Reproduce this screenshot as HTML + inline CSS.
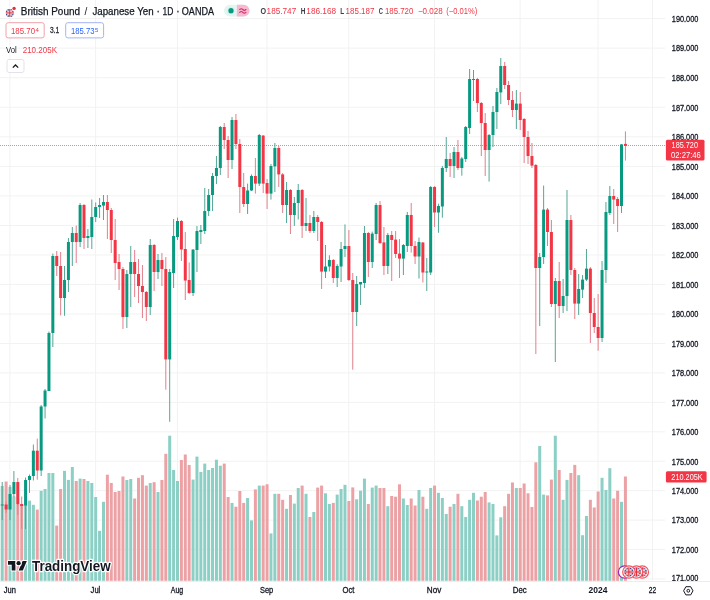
<!DOCTYPE html>
<html><head><meta charset="utf-8"><style>
html,body{margin:0;padding:0;background:#fff;}
body{width:710px;height:600px;overflow:hidden;position:relative;}
svg{position:absolute;left:0;top:0;font-family:"Liberation Sans",sans-serif;will-change:transform;}
text{font-family:"Liberation Sans",sans-serif;}
</style></head><body>
<svg width="710" height="600" viewBox="0 0 710 600">
<defs><clipPath id="cp"><rect x="0" y="0" width="665.5" height="581"/></clipPath>
<clipPath id="pa"><rect x="665.5" y="0" width="50" height="582"/></clipPath>
<clipPath id="fc"><circle cx="0" cy="0" r="6.2"/></clipPath>
<g id="ukf"><circle cx="0" cy="0" r="6.2" fill="#2b2d6e"/>
<g clip-path="url(#fc)"><path d="M-7,-7L7,7M7,-7L-7,7" stroke="#fff" stroke-width="2.2"/><path d="M-7,-7L7,7M7,-7L-7,7" stroke="#e0303f" stroke-width="0.8"/>
<rect x="-7" y="-1.6" width="14" height="3.2" fill="#fff"/><rect x="-1.6" y="-7" width="3.2" height="14" fill="#fff"/>
<rect x="-7" y="-0.9" width="14" height="1.8" fill="#e0303f"/><rect x="-0.9" y="-7" width="1.8" height="14" fill="#e0303f"/></g></g>
</defs>
<g clip-path="url(#cp)">
<line x1="0" y1="578.93" x2="665.5" y2="578.93" stroke="#f2f2f2" stroke-width="1"/>
<line x1="0" y1="549.54" x2="665.5" y2="549.54" stroke="#f2f2f2" stroke-width="1"/>
<line x1="0" y1="520.13" x2="665.5" y2="520.13" stroke="#f2f2f2" stroke-width="1"/>
<line x1="0" y1="490.71" x2="665.5" y2="490.71" stroke="#f2f2f2" stroke-width="1"/>
<line x1="0" y1="461.28" x2="665.5" y2="461.28" stroke="#f2f2f2" stroke-width="1"/>
<line x1="0" y1="431.84" x2="665.5" y2="431.84" stroke="#f2f2f2" stroke-width="1"/>
<line x1="0" y1="402.39" x2="665.5" y2="402.39" stroke="#f2f2f2" stroke-width="1"/>
<line x1="0" y1="372.93" x2="665.5" y2="372.93" stroke="#f2f2f2" stroke-width="1"/>
<line x1="0" y1="343.45" x2="665.5" y2="343.45" stroke="#f2f2f2" stroke-width="1"/>
<line x1="0" y1="313.97" x2="665.5" y2="313.97" stroke="#f2f2f2" stroke-width="1"/>
<line x1="0" y1="284.47" x2="665.5" y2="284.47" stroke="#f2f2f2" stroke-width="1"/>
<line x1="0" y1="254.97" x2="665.5" y2="254.97" stroke="#f2f2f2" stroke-width="1"/>
<line x1="0" y1="225.45" x2="665.5" y2="225.45" stroke="#f2f2f2" stroke-width="1"/>
<line x1="0" y1="195.92" x2="665.5" y2="195.92" stroke="#f2f2f2" stroke-width="1"/>
<line x1="0" y1="166.38" x2="665.5" y2="166.38" stroke="#f2f2f2" stroke-width="1"/>
<line x1="0" y1="136.83" x2="665.5" y2="136.83" stroke="#f2f2f2" stroke-width="1"/>
<line x1="0" y1="107.27" x2="665.5" y2="107.27" stroke="#f2f2f2" stroke-width="1"/>
<line x1="0" y1="77.70" x2="665.5" y2="77.70" stroke="#f2f2f2" stroke-width="1"/>
<line x1="0" y1="48.12" x2="665.5" y2="48.12" stroke="#f2f2f2" stroke-width="1"/>
<line x1="0" y1="18.53" x2="665.5" y2="18.53" stroke="#f2f2f2" stroke-width="1"/>
<line x1="9.90" y1="0" x2="9.90" y2="581" stroke="#f2f2f2" stroke-width="1"/>
<line x1="95.59" y1="0" x2="95.59" y2="581" stroke="#f2f2f2" stroke-width="1"/>
<line x1="177.39" y1="0" x2="177.39" y2="581" stroke="#f2f2f2" stroke-width="1"/>
<line x1="266.97" y1="0" x2="266.97" y2="581" stroke="#f2f2f2" stroke-width="1"/>
<line x1="348.76" y1="0" x2="348.76" y2="581" stroke="#f2f2f2" stroke-width="1"/>
<line x1="434.45" y1="0" x2="434.45" y2="581" stroke="#f2f2f2" stroke-width="1"/>
<line x1="520.14" y1="0" x2="520.14" y2="581" stroke="#f2f2f2" stroke-width="1"/>
<line x1="598.04" y1="0" x2="598.04" y2="581" stroke="#f2f2f2" stroke-width="1"/>
<line x1="652.57" y1="0" x2="652.57" y2="581" stroke="#f2f2f2" stroke-width="1"/>
<rect x="0.71" y="486.0" width="3.0" height="94.8" fill="#8ccfc5"/>
<rect x="4.61" y="481.5" width="3.0" height="99.3" fill="#eca1a5"/>
<rect x="8.50" y="487.0" width="3.0" height="93.8" fill="#8ccfc5"/>
<rect x="12.39" y="496.5" width="3.0" height="84.3" fill="#8ccfc5"/>
<rect x="16.29" y="505.0" width="3.0" height="75.8" fill="#eca1a5"/>
<rect x="20.19" y="505.0" width="3.0" height="75.8" fill="#eca1a5"/>
<rect x="24.08" y="505.0" width="3.0" height="75.8" fill="#8ccfc5"/>
<rect x="27.98" y="500.6" width="3.0" height="80.2" fill="#8ccfc5"/>
<rect x="31.87" y="504.8" width="3.0" height="76.0" fill="#8ccfc5"/>
<rect x="35.77" y="509.6" width="3.0" height="71.2" fill="#eca1a5"/>
<rect x="39.66" y="490.8" width="3.0" height="90.0" fill="#8ccfc5"/>
<rect x="43.55" y="489.0" width="3.0" height="91.8" fill="#8ccfc5"/>
<rect x="47.45" y="473.0" width="3.0" height="107.8" fill="#8ccfc5"/>
<rect x="51.34" y="473.0" width="3.0" height="107.8" fill="#8ccfc5"/>
<rect x="55.24" y="525.6" width="3.0" height="55.2" fill="#eca1a5"/>
<rect x="59.13" y="489.0" width="3.0" height="91.8" fill="#eca1a5"/>
<rect x="63.03" y="470.8" width="3.0" height="110.0" fill="#8ccfc5"/>
<rect x="66.92" y="479.9" width="3.0" height="100.9" fill="#8ccfc5"/>
<rect x="70.82" y="467.0" width="3.0" height="113.8" fill="#8ccfc5"/>
<rect x="74.72" y="481.0" width="3.0" height="99.8" fill="#eca1a5"/>
<rect x="78.61" y="478.6" width="3.0" height="102.2" fill="#8ccfc5"/>
<rect x="82.50" y="479.0" width="3.0" height="101.8" fill="#eca1a5"/>
<rect x="86.40" y="481.0" width="3.0" height="99.8" fill="#8ccfc5"/>
<rect x="90.30" y="483.0" width="3.0" height="97.8" fill="#8ccfc5"/>
<rect x="94.19" y="497.0" width="3.0" height="83.8" fill="#8ccfc5"/>
<rect x="98.08" y="530.8" width="3.0" height="50.0" fill="#8ccfc5"/>
<rect x="101.98" y="501.8" width="3.0" height="79.0" fill="#8ccfc5"/>
<rect x="105.88" y="474.7" width="3.0" height="106.1" fill="#eca1a5"/>
<rect x="109.77" y="483.0" width="3.0" height="97.8" fill="#eca1a5"/>
<rect x="113.67" y="492.0" width="3.0" height="88.8" fill="#eca1a5"/>
<rect x="117.56" y="491.0" width="3.0" height="89.8" fill="#eca1a5"/>
<rect x="121.45" y="476.5" width="3.0" height="104.3" fill="#eca1a5"/>
<rect x="125.35" y="480.0" width="3.0" height="100.8" fill="#8ccfc5"/>
<rect x="129.25" y="479.0" width="3.0" height="101.8" fill="#8ccfc5"/>
<rect x="133.14" y="498.5" width="3.0" height="82.3" fill="#eca1a5"/>
<rect x="137.03" y="477.8" width="3.0" height="103.0" fill="#eca1a5"/>
<rect x="140.93" y="475.2" width="3.0" height="105.6" fill="#eca1a5"/>
<rect x="144.82" y="485.6" width="3.0" height="95.2" fill="#eca1a5"/>
<rect x="148.72" y="483.0" width="3.0" height="97.8" fill="#8ccfc5"/>
<rect x="152.62" y="482.2" width="3.0" height="98.6" fill="#eca1a5"/>
<rect x="156.51" y="492.0" width="3.0" height="88.8" fill="#8ccfc5"/>
<rect x="160.41" y="480.0" width="3.0" height="100.8" fill="#eca1a5"/>
<rect x="164.30" y="453.8" width="3.0" height="127.0" fill="#eca1a5"/>
<rect x="168.19" y="435.7" width="3.0" height="145.1" fill="#8ccfc5"/>
<rect x="172.09" y="470.0" width="3.0" height="110.8" fill="#8ccfc5"/>
<rect x="175.99" y="481.0" width="3.0" height="99.8" fill="#8ccfc5"/>
<rect x="179.88" y="460.0" width="3.0" height="120.8" fill="#eca1a5"/>
<rect x="183.78" y="454.5" width="3.0" height="126.3" fill="#eca1a5"/>
<rect x="187.67" y="465.0" width="3.0" height="115.8" fill="#eca1a5"/>
<rect x="191.56" y="479.6" width="3.0" height="101.2" fill="#8ccfc5"/>
<rect x="195.46" y="456.6" width="3.0" height="124.2" fill="#8ccfc5"/>
<rect x="199.35" y="471.9" width="3.0" height="108.9" fill="#8ccfc5"/>
<rect x="203.25" y="463.6" width="3.0" height="117.2" fill="#8ccfc5"/>
<rect x="207.15" y="470.0" width="3.0" height="110.8" fill="#8ccfc5"/>
<rect x="211.04" y="468.0" width="3.0" height="112.8" fill="#8ccfc5"/>
<rect x="214.94" y="459.7" width="3.0" height="121.1" fill="#8ccfc5"/>
<rect x="218.83" y="465.7" width="3.0" height="115.1" fill="#8ccfc5"/>
<rect x="222.72" y="463.6" width="3.0" height="117.2" fill="#eca1a5"/>
<rect x="226.62" y="497.0" width="3.0" height="83.8" fill="#eca1a5"/>
<rect x="230.52" y="502.9" width="3.0" height="77.9" fill="#8ccfc5"/>
<rect x="234.41" y="506.7" width="3.0" height="74.1" fill="#eca1a5"/>
<rect x="238.31" y="491.0" width="3.0" height="89.8" fill="#eca1a5"/>
<rect x="242.20" y="502.9" width="3.0" height="77.9" fill="#eca1a5"/>
<rect x="246.09" y="498.0" width="3.0" height="82.8" fill="#8ccfc5"/>
<rect x="249.99" y="520.4" width="3.0" height="60.4" fill="#8ccfc5"/>
<rect x="253.88" y="489.4" width="3.0" height="91.4" fill="#eca1a5"/>
<rect x="257.78" y="485.6" width="3.0" height="95.2" fill="#8ccfc5"/>
<rect x="261.68" y="485.6" width="3.0" height="95.2" fill="#eca1a5"/>
<rect x="265.57" y="484.3" width="3.0" height="96.5" fill="#eca1a5"/>
<rect x="269.46" y="533.4" width="3.0" height="47.4" fill="#8ccfc5"/>
<rect x="273.36" y="493.8" width="3.0" height="87.0" fill="#8ccfc5"/>
<rect x="277.25" y="493.8" width="3.0" height="87.0" fill="#eca1a5"/>
<rect x="281.15" y="499.8" width="3.0" height="81.0" fill="#eca1a5"/>
<rect x="285.05" y="508.8" width="3.0" height="72.0" fill="#8ccfc5"/>
<rect x="288.94" y="495.0" width="3.0" height="85.8" fill="#eca1a5"/>
<rect x="292.83" y="503.6" width="3.0" height="77.2" fill="#8ccfc5"/>
<rect x="296.73" y="488.0" width="3.0" height="92.8" fill="#8ccfc5"/>
<rect x="300.62" y="485.6" width="3.0" height="95.2" fill="#eca1a5"/>
<rect x="304.52" y="493.8" width="3.0" height="87.0" fill="#8ccfc5"/>
<rect x="308.42" y="517.0" width="3.0" height="63.8" fill="#eca1a5"/>
<rect x="312.31" y="512.0" width="3.0" height="68.8" fill="#8ccfc5"/>
<rect x="316.20" y="487.6" width="3.0" height="93.2" fill="#eca1a5"/>
<rect x="320.10" y="485.6" width="3.0" height="95.2" fill="#eca1a5"/>
<rect x="324.00" y="493.3" width="3.0" height="87.5" fill="#8ccfc5"/>
<rect x="327.89" y="504.0" width="3.0" height="76.8" fill="#8ccfc5"/>
<rect x="331.79" y="502.9" width="3.0" height="77.9" fill="#eca1a5"/>
<rect x="335.68" y="494.6" width="3.0" height="86.2" fill="#8ccfc5"/>
<rect x="339.57" y="489.0" width="3.0" height="91.8" fill="#8ccfc5"/>
<rect x="343.47" y="484.8" width="3.0" height="96.0" fill="#8ccfc5"/>
<rect x="347.37" y="501.0" width="3.0" height="79.8" fill="#eca1a5"/>
<rect x="351.26" y="487.4" width="3.0" height="93.4" fill="#eca1a5"/>
<rect x="355.16" y="499.3" width="3.0" height="81.5" fill="#8ccfc5"/>
<rect x="359.05" y="490.7" width="3.0" height="90.1" fill="#8ccfc5"/>
<rect x="362.94" y="478.6" width="3.0" height="102.2" fill="#8ccfc5"/>
<rect x="366.84" y="504.0" width="3.0" height="76.8" fill="#eca1a5"/>
<rect x="370.74" y="487.6" width="3.0" height="93.2" fill="#8ccfc5"/>
<rect x="374.63" y="485.6" width="3.0" height="95.2" fill="#8ccfc5"/>
<rect x="378.52" y="488.0" width="3.0" height="92.8" fill="#eca1a5"/>
<rect x="382.42" y="488.0" width="3.0" height="92.8" fill="#eca1a5"/>
<rect x="386.31" y="506.2" width="3.0" height="74.6" fill="#8ccfc5"/>
<rect x="390.21" y="496.0" width="3.0" height="84.8" fill="#eca1a5"/>
<rect x="394.11" y="496.7" width="3.0" height="84.1" fill="#eca1a5"/>
<rect x="398.00" y="484.3" width="3.0" height="96.5" fill="#eca1a5"/>
<rect x="401.89" y="498.5" width="3.0" height="82.3" fill="#8ccfc5"/>
<rect x="405.79" y="505.0" width="3.0" height="75.8" fill="#8ccfc5"/>
<rect x="409.69" y="498.5" width="3.0" height="82.3" fill="#eca1a5"/>
<rect x="413.58" y="505.5" width="3.0" height="75.3" fill="#eca1a5"/>
<rect x="417.48" y="490.0" width="3.0" height="90.8" fill="#8ccfc5"/>
<rect x="421.37" y="496.7" width="3.0" height="84.1" fill="#eca1a5"/>
<rect x="425.26" y="508.8" width="3.0" height="72.0" fill="#8ccfc5"/>
<rect x="429.16" y="488.0" width="3.0" height="92.8" fill="#8ccfc5"/>
<rect x="433.06" y="485.6" width="3.0" height="95.2" fill="#eca1a5"/>
<rect x="436.95" y="492.8" width="3.0" height="88.0" fill="#8ccfc5"/>
<rect x="440.85" y="498.0" width="3.0" height="82.8" fill="#8ccfc5"/>
<rect x="444.74" y="514.0" width="3.0" height="66.8" fill="#8ccfc5"/>
<rect x="448.63" y="506.7" width="3.0" height="74.1" fill="#eca1a5"/>
<rect x="452.53" y="504.0" width="3.0" height="76.8" fill="#8ccfc5"/>
<rect x="456.43" y="493.8" width="3.0" height="87.0" fill="#eca1a5"/>
<rect x="460.32" y="506.2" width="3.0" height="74.6" fill="#8ccfc5"/>
<rect x="464.21" y="517.0" width="3.0" height="63.8" fill="#8ccfc5"/>
<rect x="468.11" y="499.8" width="3.0" height="81.0" fill="#8ccfc5"/>
<rect x="472.00" y="492.8" width="3.0" height="88.0" fill="#8ccfc5"/>
<rect x="475.90" y="500.5" width="3.0" height="80.3" fill="#eca1a5"/>
<rect x="479.80" y="496.7" width="3.0" height="84.1" fill="#eca1a5"/>
<rect x="483.69" y="492.0" width="3.0" height="88.8" fill="#eca1a5"/>
<rect x="487.58" y="502.4" width="3.0" height="78.4" fill="#8ccfc5"/>
<rect x="491.48" y="504.0" width="3.0" height="76.8" fill="#8ccfc5"/>
<rect x="495.38" y="535.4" width="3.0" height="45.4" fill="#8ccfc5"/>
<rect x="499.27" y="517.3" width="3.0" height="63.5" fill="#8ccfc5"/>
<rect x="503.17" y="506.2" width="3.0" height="74.6" fill="#eca1a5"/>
<rect x="507.06" y="493.8" width="3.0" height="87.0" fill="#eca1a5"/>
<rect x="510.95" y="482.5" width="3.0" height="98.3" fill="#eca1a5"/>
<rect x="514.85" y="488.0" width="3.0" height="92.8" fill="#8ccfc5"/>
<rect x="518.75" y="488.0" width="3.0" height="92.8" fill="#eca1a5"/>
<rect x="522.64" y="483.5" width="3.0" height="97.3" fill="#eca1a5"/>
<rect x="526.53" y="493.3" width="3.0" height="87.5" fill="#eca1a5"/>
<rect x="530.43" y="507.0" width="3.0" height="73.8" fill="#eca1a5"/>
<rect x="534.33" y="462.3" width="3.0" height="118.5" fill="#eca1a5"/>
<rect x="538.22" y="446.0" width="3.0" height="134.8" fill="#8ccfc5"/>
<rect x="542.12" y="494.6" width="3.0" height="86.2" fill="#8ccfc5"/>
<rect x="546.01" y="495.4" width="3.0" height="85.4" fill="#eca1a5"/>
<rect x="549.90" y="479.6" width="3.0" height="101.2" fill="#eca1a5"/>
<rect x="553.80" y="435.7" width="3.0" height="145.1" fill="#8ccfc5"/>
<rect x="557.70" y="470.0" width="3.0" height="110.8" fill="#eca1a5"/>
<rect x="561.59" y="499.8" width="3.0" height="81.0" fill="#8ccfc5"/>
<rect x="565.49" y="479.9" width="3.0" height="100.9" fill="#8ccfc5"/>
<rect x="569.38" y="473.0" width="3.0" height="107.8" fill="#eca1a5"/>
<rect x="573.27" y="464.9" width="3.0" height="115.9" fill="#eca1a5"/>
<rect x="577.17" y="475.2" width="3.0" height="105.6" fill="#8ccfc5"/>
<rect x="581.07" y="535.2" width="3.0" height="45.6" fill="#8ccfc5"/>
<rect x="584.96" y="516.0" width="3.0" height="64.8" fill="#8ccfc5"/>
<rect x="588.86" y="499.8" width="3.0" height="81.0" fill="#eca1a5"/>
<rect x="592.75" y="507.5" width="3.0" height="73.3" fill="#eca1a5"/>
<rect x="596.64" y="491.5" width="3.0" height="89.3" fill="#eca1a5"/>
<rect x="600.54" y="477.8" width="3.0" height="103.0" fill="#8ccfc5"/>
<rect x="604.44" y="490.0" width="3.0" height="90.8" fill="#8ccfc5"/>
<rect x="608.33" y="468.2" width="3.0" height="112.6" fill="#8ccfc5"/>
<rect x="612.23" y="498.5" width="3.0" height="82.3" fill="#eca1a5"/>
<rect x="616.12" y="490.7" width="3.0" height="90.1" fill="#eca1a5"/>
<rect x="620.01" y="501.8" width="3.0" height="79.0" fill="#8ccfc5"/>
<rect x="623.91" y="476.5" width="3.0" height="104.3" fill="#eca1a5"/>
<line x1="0" y1="145.5" x2="665.5" y2="145.5" stroke="#d48e99" stroke-width="1" stroke-dasharray="1 1"/>
<rect x="1.71" y="482.0" width="1" height="38.0" fill="#55a795"/>
<rect x="0.71" y="504.5" width="3.0" height="1.0" fill="#089981"/>
<rect x="5.61" y="501.5" width="1" height="11.5" fill="#e2808c"/>
<rect x="4.61" y="504.5" width="3.0" height="5.0" fill="#f23645"/>
<rect x="9.50" y="485.0" width="1" height="35.0" fill="#55a795"/>
<rect x="8.50" y="494.0" width="3.0" height="15.5" fill="#089981"/>
<rect x="13.39" y="471.0" width="1" height="26.0" fill="#55a795"/>
<rect x="12.39" y="482.0" width="3.0" height="12.0" fill="#089981"/>
<rect x="17.29" y="478.0" width="1" height="37.0" fill="#e2808c"/>
<rect x="16.29" y="482.0" width="3.0" height="22.5" fill="#f23645"/>
<rect x="21.19" y="496.5" width="1" height="32.5" fill="#e2808c"/>
<rect x="20.19" y="504.0" width="3.0" height="2.0" fill="#f23645"/>
<rect x="25.08" y="477.5" width="1" height="51.5" fill="#55a795"/>
<rect x="24.08" y="480.0" width="3.0" height="25.5" fill="#089981"/>
<rect x="28.98" y="474.5" width="1" height="18.5" fill="#55a795"/>
<rect x="27.98" y="476.0" width="3.0" height="4.0" fill="#089981"/>
<rect x="32.87" y="444.5" width="1" height="36.0" fill="#55a795"/>
<rect x="31.87" y="450.7" width="3.0" height="25.3" fill="#089981"/>
<rect x="36.77" y="438.6" width="1" height="41.1" fill="#e2808c"/>
<rect x="35.77" y="450.7" width="3.0" height="19.8" fill="#f23645"/>
<rect x="40.66" y="405.0" width="1" height="71.0" fill="#55a795"/>
<rect x="39.66" y="406.5" width="3.0" height="64.0" fill="#089981"/>
<rect x="44.55" y="389.0" width="1" height="29.5" fill="#55a795"/>
<rect x="43.55" y="390.5" width="3.0" height="16.0" fill="#089981"/>
<rect x="48.45" y="331.5" width="1" height="59.5" fill="#55a795"/>
<rect x="47.45" y="333.0" width="3.0" height="58.0" fill="#089981"/>
<rect x="52.34" y="253.6" width="1" height="93.4" fill="#55a795"/>
<rect x="51.34" y="256.0" width="3.0" height="77.0" fill="#089981"/>
<rect x="56.24" y="251.0" width="1" height="25.0" fill="#e2808c"/>
<rect x="55.24" y="256.0" width="3.0" height="10.0" fill="#f23645"/>
<rect x="60.13" y="252.0" width="1" height="63.4" fill="#e2808c"/>
<rect x="59.13" y="266.0" width="3.0" height="32.0" fill="#f23645"/>
<rect x="64.03" y="266.0" width="1" height="49.8" fill="#55a795"/>
<rect x="63.03" y="280.0" width="3.0" height="18.0" fill="#089981"/>
<rect x="67.92" y="238.0" width="1" height="54.0" fill="#55a795"/>
<rect x="66.92" y="242.0" width="3.0" height="38.0" fill="#089981"/>
<rect x="71.82" y="227.0" width="1" height="39.0" fill="#55a795"/>
<rect x="70.82" y="233.0" width="3.0" height="9.0" fill="#089981"/>
<rect x="75.72" y="225.6" width="1" height="37.4" fill="#e2808c"/>
<rect x="74.72" y="233.0" width="3.0" height="9.0" fill="#f23645"/>
<rect x="79.61" y="203.0" width="1" height="44.0" fill="#55a795"/>
<rect x="78.61" y="205.0" width="3.0" height="37.0" fill="#089981"/>
<rect x="83.50" y="204.0" width="1" height="45.0" fill="#e2808c"/>
<rect x="82.50" y="205.0" width="3.0" height="33.0" fill="#f23645"/>
<rect x="87.40" y="229.0" width="1" height="19.0" fill="#55a795"/>
<rect x="86.40" y="236.0" width="3.0" height="2.0" fill="#089981"/>
<rect x="91.30" y="199.5" width="1" height="49.5" fill="#55a795"/>
<rect x="90.30" y="217.0" width="3.0" height="20.0" fill="#089981"/>
<rect x="95.19" y="202.5" width="1" height="19.5" fill="#55a795"/>
<rect x="94.19" y="207.0" width="3.0" height="10.0" fill="#089981"/>
<rect x="99.08" y="198.0" width="1" height="20.0" fill="#55a795"/>
<rect x="98.08" y="205.0" width="3.0" height="2.0" fill="#089981"/>
<rect x="102.98" y="195.0" width="1" height="25.0" fill="#55a795"/>
<rect x="101.98" y="202.0" width="3.0" height="3.6" fill="#089981"/>
<rect x="106.88" y="195.0" width="1" height="44.0" fill="#e2808c"/>
<rect x="105.88" y="202.0" width="3.0" height="8.0" fill="#f23645"/>
<rect x="110.77" y="208.0" width="1" height="45.0" fill="#e2808c"/>
<rect x="109.77" y="210.0" width="3.0" height="30.0" fill="#f23645"/>
<rect x="114.67" y="219.0" width="1" height="61.0" fill="#e2808c"/>
<rect x="113.67" y="240.0" width="3.0" height="23.0" fill="#f23645"/>
<rect x="118.56" y="254.0" width="1" height="36.0" fill="#e2808c"/>
<rect x="117.56" y="262.0" width="3.0" height="7.0" fill="#f23645"/>
<rect x="122.45" y="267.0" width="1" height="62.0" fill="#e2808c"/>
<rect x="121.45" y="269.0" width="3.0" height="48.0" fill="#f23645"/>
<rect x="126.35" y="270.0" width="1" height="58.0" fill="#55a795"/>
<rect x="125.35" y="274.0" width="3.0" height="43.0" fill="#089981"/>
<rect x="130.25" y="246.0" width="1" height="61.0" fill="#55a795"/>
<rect x="129.25" y="262.0" width="3.0" height="12.0" fill="#089981"/>
<rect x="134.14" y="250.0" width="1" height="47.0" fill="#e2808c"/>
<rect x="133.14" y="262.0" width="3.0" height="12.0" fill="#f23645"/>
<rect x="138.03" y="259.0" width="1" height="44.0" fill="#e2808c"/>
<rect x="137.03" y="274.0" width="3.0" height="12.0" fill="#f23645"/>
<rect x="141.93" y="265.0" width="1" height="53.0" fill="#e2808c"/>
<rect x="140.93" y="286.0" width="3.0" height="6.0" fill="#f23645"/>
<rect x="145.82" y="291.0" width="1" height="30.0" fill="#e2808c"/>
<rect x="144.82" y="292.0" width="3.0" height="15.0" fill="#f23645"/>
<rect x="149.72" y="239.0" width="1" height="76.0" fill="#55a795"/>
<rect x="148.72" y="245.0" width="3.0" height="62.0" fill="#089981"/>
<rect x="153.62" y="244.0" width="1" height="47.0" fill="#e2808c"/>
<rect x="152.62" y="245.0" width="3.0" height="27.0" fill="#f23645"/>
<rect x="157.51" y="254.0" width="1" height="25.0" fill="#55a795"/>
<rect x="156.51" y="260.0" width="3.0" height="12.0" fill="#089981"/>
<rect x="161.41" y="253.0" width="1" height="33.0" fill="#e2808c"/>
<rect x="160.41" y="260.0" width="3.0" height="9.0" fill="#f23645"/>
<rect x="165.30" y="257.0" width="1" height="132.7" fill="#e2808c"/>
<rect x="164.30" y="269.0" width="3.0" height="90.4" fill="#f23645"/>
<rect x="169.19" y="269.0" width="1" height="152.7" fill="#55a795"/>
<rect x="168.19" y="272.0" width="3.0" height="87.4" fill="#089981"/>
<rect x="173.09" y="219.0" width="1" height="69.0" fill="#55a795"/>
<rect x="172.09" y="236.0" width="3.0" height="37.0" fill="#089981"/>
<rect x="176.99" y="217.6" width="1" height="22.4" fill="#55a795"/>
<rect x="175.99" y="221.0" width="3.0" height="16.0" fill="#089981"/>
<rect x="180.88" y="220.0" width="1" height="41.0" fill="#e2808c"/>
<rect x="179.88" y="221.0" width="3.0" height="28.5" fill="#f23645"/>
<rect x="184.78" y="232.0" width="1" height="68.0" fill="#e2808c"/>
<rect x="183.78" y="249.0" width="3.0" height="31.5" fill="#f23645"/>
<rect x="188.67" y="262.5" width="1" height="31.5" fill="#e2808c"/>
<rect x="187.67" y="280.0" width="3.0" height="13.0" fill="#f23645"/>
<rect x="192.56" y="249.0" width="1" height="47.0" fill="#55a795"/>
<rect x="191.56" y="249.6" width="3.0" height="43.4" fill="#089981"/>
<rect x="196.46" y="226.0" width="1" height="46.0" fill="#55a795"/>
<rect x="195.46" y="231.0" width="3.0" height="19.0" fill="#089981"/>
<rect x="200.35" y="225.0" width="1" height="19.0" fill="#55a795"/>
<rect x="199.35" y="230.0" width="3.0" height="2.0" fill="#089981"/>
<rect x="204.25" y="188.0" width="1" height="46.0" fill="#55a795"/>
<rect x="203.25" y="211.0" width="3.0" height="20.0" fill="#089981"/>
<rect x="208.15" y="189.0" width="1" height="27.0" fill="#55a795"/>
<rect x="207.15" y="195.0" width="3.0" height="16.0" fill="#089981"/>
<rect x="212.04" y="173.0" width="1" height="38.0" fill="#55a795"/>
<rect x="211.04" y="176.0" width="3.0" height="19.0" fill="#089981"/>
<rect x="215.94" y="156.0" width="1" height="28.0" fill="#55a795"/>
<rect x="214.94" y="168.0" width="3.0" height="8.0" fill="#089981"/>
<rect x="219.83" y="126.0" width="1" height="49.0" fill="#55a795"/>
<rect x="218.83" y="127.0" width="3.0" height="41.0" fill="#089981"/>
<rect x="223.72" y="123.0" width="1" height="26.0" fill="#e2808c"/>
<rect x="222.72" y="127.0" width="3.0" height="13.0" fill="#f23645"/>
<rect x="227.62" y="136.0" width="1" height="42.0" fill="#e2808c"/>
<rect x="226.62" y="140.0" width="3.0" height="20.0" fill="#f23645"/>
<rect x="231.52" y="117.0" width="1" height="52.0" fill="#55a795"/>
<rect x="230.52" y="120.0" width="3.0" height="40.0" fill="#089981"/>
<rect x="235.41" y="114.0" width="1" height="35.0" fill="#e2808c"/>
<rect x="234.41" y="120.0" width="3.0" height="24.0" fill="#f23645"/>
<rect x="239.31" y="139.0" width="1" height="74.0" fill="#e2808c"/>
<rect x="238.31" y="144.0" width="3.0" height="43.0" fill="#f23645"/>
<rect x="243.20" y="173.0" width="1" height="34.0" fill="#e2808c"/>
<rect x="242.20" y="187.0" width="3.0" height="17.0" fill="#f23645"/>
<rect x="247.09" y="183.6" width="1" height="30.4" fill="#55a795"/>
<rect x="246.09" y="190.5" width="3.0" height="13.5" fill="#089981"/>
<rect x="250.99" y="174.4" width="1" height="16.6" fill="#55a795"/>
<rect x="249.99" y="176.0" width="3.0" height="14.5" fill="#089981"/>
<rect x="254.88" y="158.0" width="1" height="35.6" fill="#e2808c"/>
<rect x="253.88" y="176.0" width="3.0" height="7.6" fill="#f23645"/>
<rect x="258.78" y="134.0" width="1" height="52.0" fill="#55a795"/>
<rect x="257.78" y="135.0" width="3.0" height="48.6" fill="#089981"/>
<rect x="262.68" y="135.0" width="1" height="58.0" fill="#e2808c"/>
<rect x="261.68" y="135.6" width="3.0" height="48.0" fill="#f23645"/>
<rect x="266.57" y="179.0" width="1" height="30.0" fill="#e2808c"/>
<rect x="265.57" y="183.0" width="3.0" height="10.6" fill="#f23645"/>
<rect x="270.46" y="164.0" width="1" height="35.6" fill="#55a795"/>
<rect x="269.46" y="166.0" width="3.0" height="27.6" fill="#089981"/>
<rect x="274.36" y="143.0" width="1" height="49.0" fill="#55a795"/>
<rect x="273.36" y="148.0" width="3.0" height="18.4" fill="#089981"/>
<rect x="278.25" y="146.0" width="1" height="41.0" fill="#e2808c"/>
<rect x="277.25" y="148.0" width="3.0" height="26.4" fill="#f23645"/>
<rect x="282.15" y="173.0" width="1" height="40.0" fill="#e2808c"/>
<rect x="281.15" y="174.4" width="3.0" height="30.6" fill="#f23645"/>
<rect x="286.05" y="182.0" width="1" height="41.0" fill="#55a795"/>
<rect x="285.05" y="190.0" width="3.0" height="15.0" fill="#089981"/>
<rect x="289.94" y="189.0" width="1" height="45.0" fill="#e2808c"/>
<rect x="288.94" y="190.0" width="3.0" height="25.0" fill="#f23645"/>
<rect x="293.83" y="197.0" width="1" height="29.0" fill="#55a795"/>
<rect x="292.83" y="203.0" width="3.0" height="12.0" fill="#089981"/>
<rect x="297.73" y="184.0" width="1" height="35.5" fill="#55a795"/>
<rect x="296.73" y="190.0" width="3.0" height="13.0" fill="#089981"/>
<rect x="301.62" y="189.0" width="1" height="49.0" fill="#e2808c"/>
<rect x="300.62" y="190.0" width="3.0" height="36.0" fill="#f23645"/>
<rect x="305.52" y="198.0" width="1" height="33.0" fill="#55a795"/>
<rect x="304.52" y="223.0" width="3.0" height="3.0" fill="#089981"/>
<rect x="309.42" y="215.0" width="1" height="18.0" fill="#e2808c"/>
<rect x="308.42" y="223.0" width="3.0" height="8.0" fill="#f23645"/>
<rect x="313.31" y="211.0" width="1" height="22.0" fill="#55a795"/>
<rect x="312.31" y="217.0" width="3.0" height="14.0" fill="#089981"/>
<rect x="317.20" y="215.0" width="1" height="26.0" fill="#e2808c"/>
<rect x="316.20" y="217.0" width="3.0" height="5.0" fill="#f23645"/>
<rect x="321.10" y="221.0" width="1" height="68.0" fill="#e2808c"/>
<rect x="320.10" y="222.0" width="3.0" height="49.6" fill="#f23645"/>
<rect x="325.00" y="245.0" width="1" height="33.0" fill="#55a795"/>
<rect x="324.00" y="266.5" width="3.0" height="5.1" fill="#089981"/>
<rect x="328.89" y="255.3" width="1" height="16.2" fill="#55a795"/>
<rect x="327.89" y="260.0" width="3.0" height="6.5" fill="#089981"/>
<rect x="332.79" y="259.0" width="1" height="24.0" fill="#e2808c"/>
<rect x="331.79" y="260.0" width="3.0" height="18.0" fill="#f23645"/>
<rect x="336.68" y="264.2" width="1" height="22.8" fill="#55a795"/>
<rect x="335.68" y="266.0" width="3.0" height="12.0" fill="#089981"/>
<rect x="340.57" y="242.0" width="1" height="40.0" fill="#55a795"/>
<rect x="339.57" y="249.0" width="3.0" height="17.5" fill="#089981"/>
<rect x="344.47" y="224.4" width="1" height="32.6" fill="#55a795"/>
<rect x="343.47" y="246.0" width="3.0" height="3.0" fill="#089981"/>
<rect x="348.37" y="230.0" width="1" height="51.0" fill="#e2808c"/>
<rect x="347.37" y="246.0" width="3.0" height="34.0" fill="#f23645"/>
<rect x="352.26" y="273.0" width="1" height="96.7" fill="#e2808c"/>
<rect x="351.26" y="280.0" width="3.0" height="32.0" fill="#f23645"/>
<rect x="356.16" y="276.0" width="1" height="50.0" fill="#55a795"/>
<rect x="355.16" y="284.0" width="3.0" height="28.0" fill="#089981"/>
<rect x="360.05" y="282.0" width="1" height="23.0" fill="#55a795"/>
<rect x="359.05" y="282.0" width="3.0" height="2.4" fill="#089981"/>
<rect x="363.94" y="226.0" width="1" height="62.0" fill="#55a795"/>
<rect x="362.94" y="233.0" width="3.0" height="50.0" fill="#089981"/>
<rect x="367.84" y="232.0" width="1" height="45.0" fill="#e2808c"/>
<rect x="366.84" y="233.0" width="3.0" height="29.0" fill="#f23645"/>
<rect x="371.74" y="231.6" width="1" height="36.4" fill="#55a795"/>
<rect x="370.74" y="233.6" width="3.0" height="28.4" fill="#089981"/>
<rect x="375.63" y="203.0" width="1" height="37.0" fill="#55a795"/>
<rect x="374.63" y="205.0" width="3.0" height="29.0" fill="#089981"/>
<rect x="379.52" y="201.0" width="1" height="43.0" fill="#e2808c"/>
<rect x="378.52" y="205.0" width="3.0" height="38.0" fill="#f23645"/>
<rect x="383.42" y="227.0" width="1" height="48.0" fill="#e2808c"/>
<rect x="382.42" y="242.4" width="3.0" height="23.6" fill="#f23645"/>
<rect x="387.31" y="233.0" width="1" height="41.0" fill="#55a795"/>
<rect x="386.31" y="235.0" width="3.0" height="31.0" fill="#089981"/>
<rect x="391.21" y="231.0" width="1" height="50.0" fill="#e2808c"/>
<rect x="390.21" y="235.0" width="3.0" height="5.0" fill="#f23645"/>
<rect x="395.11" y="231.0" width="1" height="27.0" fill="#e2808c"/>
<rect x="394.11" y="239.6" width="3.0" height="14.4" fill="#f23645"/>
<rect x="399.00" y="239.0" width="1" height="39.0" fill="#e2808c"/>
<rect x="398.00" y="253.6" width="3.0" height="5.0" fill="#f23645"/>
<rect x="402.89" y="244.0" width="1" height="31.0" fill="#55a795"/>
<rect x="401.89" y="245.0" width="3.0" height="13.6" fill="#089981"/>
<rect x="406.79" y="212.0" width="1" height="40.0" fill="#55a795"/>
<rect x="405.79" y="215.0" width="3.0" height="31.0" fill="#089981"/>
<rect x="410.69" y="203.0" width="1" height="49.7" fill="#e2808c"/>
<rect x="409.69" y="215.0" width="3.0" height="31.0" fill="#f23645"/>
<rect x="414.58" y="241.0" width="1" height="23.0" fill="#e2808c"/>
<rect x="413.58" y="246.0" width="3.0" height="10.5" fill="#f23645"/>
<rect x="418.48" y="237.5" width="1" height="41.0" fill="#55a795"/>
<rect x="417.48" y="242.0" width="3.0" height="14.5" fill="#089981"/>
<rect x="422.37" y="242.0" width="1" height="40.5" fill="#e2808c"/>
<rect x="421.37" y="242.5" width="3.0" height="30.0" fill="#f23645"/>
<rect x="426.26" y="258.0" width="1" height="33.0" fill="#55a795"/>
<rect x="425.26" y="271.5" width="3.0" height="1.0" fill="#089981"/>
<rect x="430.16" y="186.0" width="1" height="89.0" fill="#55a795"/>
<rect x="429.16" y="187.0" width="3.0" height="85.5" fill="#089981"/>
<rect x="434.06" y="186.0" width="1" height="41.0" fill="#e2808c"/>
<rect x="433.06" y="187.0" width="3.0" height="25.5" fill="#f23645"/>
<rect x="437.95" y="203.7" width="1" height="29.1" fill="#55a795"/>
<rect x="436.95" y="206.0" width="3.0" height="6.5" fill="#089981"/>
<rect x="441.85" y="166.0" width="1" height="51.7" fill="#55a795"/>
<rect x="440.85" y="168.0" width="3.0" height="38.5" fill="#089981"/>
<rect x="445.74" y="137.0" width="1" height="35.0" fill="#55a795"/>
<rect x="444.74" y="159.0" width="3.0" height="9.0" fill="#089981"/>
<rect x="449.63" y="153.0" width="1" height="24.0" fill="#e2808c"/>
<rect x="448.63" y="159.0" width="3.0" height="7.0" fill="#f23645"/>
<rect x="453.53" y="147.0" width="1" height="31.0" fill="#55a795"/>
<rect x="452.53" y="152.0" width="3.0" height="14.0" fill="#089981"/>
<rect x="457.43" y="140.0" width="1" height="30.0" fill="#e2808c"/>
<rect x="456.43" y="152.0" width="3.0" height="16.0" fill="#f23645"/>
<rect x="461.32" y="157.0" width="1" height="18.7" fill="#55a795"/>
<rect x="460.32" y="158.5" width="3.0" height="9.5" fill="#089981"/>
<rect x="465.21" y="126.0" width="1" height="36.0" fill="#55a795"/>
<rect x="464.21" y="127.0" width="3.0" height="32.0" fill="#089981"/>
<rect x="469.11" y="69.0" width="1" height="65.0" fill="#55a795"/>
<rect x="468.11" y="79.0" width="3.0" height="49.0" fill="#089981"/>
<rect x="473.00" y="70.0" width="1" height="31.0" fill="#55a795"/>
<rect x="472.00" y="79.0" width="3.0" height="1.0" fill="#089981"/>
<rect x="476.90" y="78.0" width="1" height="34.0" fill="#e2808c"/>
<rect x="475.90" y="79.0" width="3.0" height="24.0" fill="#f23645"/>
<rect x="480.80" y="102.0" width="1" height="54.0" fill="#e2808c"/>
<rect x="479.80" y="103.0" width="3.0" height="20.0" fill="#f23645"/>
<rect x="484.69" y="113.0" width="1" height="63.0" fill="#e2808c"/>
<rect x="483.69" y="123.0" width="3.0" height="27.0" fill="#f23645"/>
<rect x="488.58" y="134.0" width="1" height="47.6" fill="#55a795"/>
<rect x="487.58" y="135.0" width="3.0" height="15.0" fill="#089981"/>
<rect x="492.48" y="106.0" width="1" height="41.0" fill="#55a795"/>
<rect x="491.48" y="112.0" width="3.0" height="23.0" fill="#089981"/>
<rect x="496.38" y="88.0" width="1" height="41.0" fill="#55a795"/>
<rect x="495.38" y="92.0" width="3.0" height="20.0" fill="#089981"/>
<rect x="500.27" y="58.0" width="1" height="46.0" fill="#55a795"/>
<rect x="499.27" y="66.0" width="3.0" height="26.4" fill="#089981"/>
<rect x="504.17" y="62.0" width="1" height="27.0" fill="#e2808c"/>
<rect x="503.17" y="66.0" width="3.0" height="19.0" fill="#f23645"/>
<rect x="508.06" y="81.0" width="1" height="24.0" fill="#e2808c"/>
<rect x="507.06" y="85.0" width="3.0" height="15.0" fill="#f23645"/>
<rect x="511.95" y="91.0" width="1" height="26.0" fill="#e2808c"/>
<rect x="510.95" y="100.0" width="3.0" height="10.0" fill="#f23645"/>
<rect x="515.85" y="90.0" width="1" height="39.0" fill="#55a795"/>
<rect x="514.85" y="103.6" width="3.0" height="6.4" fill="#089981"/>
<rect x="519.75" y="92.0" width="1" height="38.0" fill="#e2808c"/>
<rect x="518.75" y="103.6" width="3.0" height="16.4" fill="#f23645"/>
<rect x="523.64" y="118.0" width="1" height="45.0" fill="#e2808c"/>
<rect x="522.64" y="119.0" width="3.0" height="18.0" fill="#f23645"/>
<rect x="527.53" y="131.0" width="1" height="33.0" fill="#e2808c"/>
<rect x="526.53" y="137.0" width="3.0" height="19.0" fill="#f23645"/>
<rect x="531.43" y="143.0" width="1" height="25.0" fill="#e2808c"/>
<rect x="530.43" y="156.0" width="3.0" height="9.6" fill="#f23645"/>
<rect x="535.33" y="164.0" width="1" height="190.0" fill="#e2808c"/>
<rect x="534.33" y="165.0" width="3.0" height="103.0" fill="#f23645"/>
<rect x="539.22" y="253.0" width="1" height="73.0" fill="#55a795"/>
<rect x="538.22" y="257.0" width="3.0" height="11.0" fill="#089981"/>
<rect x="543.12" y="185.6" width="1" height="78.4" fill="#55a795"/>
<rect x="542.12" y="209.6" width="3.0" height="47.4" fill="#089981"/>
<rect x="547.01" y="208.0" width="1" height="38.0" fill="#e2808c"/>
<rect x="546.01" y="209.6" width="3.0" height="22.4" fill="#f23645"/>
<rect x="550.90" y="220.0" width="1" height="87.0" fill="#e2808c"/>
<rect x="549.90" y="232.0" width="3.0" height="72.0" fill="#f23645"/>
<rect x="554.80" y="278.0" width="1" height="84.0" fill="#55a795"/>
<rect x="553.80" y="281.0" width="3.0" height="23.0" fill="#089981"/>
<rect x="558.70" y="262.0" width="1" height="56.0" fill="#e2808c"/>
<rect x="557.70" y="281.0" width="3.0" height="25.0" fill="#f23645"/>
<rect x="562.59" y="279.0" width="1" height="34.0" fill="#55a795"/>
<rect x="561.59" y="296.0" width="3.0" height="10.0" fill="#089981"/>
<rect x="566.49" y="190.0" width="1" height="121.0" fill="#55a795"/>
<rect x="565.49" y="220.0" width="3.0" height="76.0" fill="#089981"/>
<rect x="570.38" y="215.0" width="1" height="60.0" fill="#e2808c"/>
<rect x="569.38" y="220.0" width="3.0" height="50.0" fill="#f23645"/>
<rect x="574.27" y="268.0" width="1" height="51.0" fill="#e2808c"/>
<rect x="573.27" y="270.0" width="3.0" height="33.6" fill="#f23645"/>
<rect x="578.17" y="274.0" width="1" height="41.0" fill="#55a795"/>
<rect x="577.17" y="289.0" width="3.0" height="14.6" fill="#089981"/>
<rect x="582.07" y="275.0" width="1" height="23.0" fill="#55a795"/>
<rect x="581.07" y="279.6" width="3.0" height="10.0" fill="#089981"/>
<rect x="585.96" y="249.0" width="1" height="32.0" fill="#55a795"/>
<rect x="584.96" y="268.6" width="3.0" height="11.0" fill="#089981"/>
<rect x="589.86" y="267.0" width="1" height="76.0" fill="#e2808c"/>
<rect x="588.86" y="268.6" width="3.0" height="44.4" fill="#f23645"/>
<rect x="593.75" y="298.0" width="1" height="35.0" fill="#e2808c"/>
<rect x="592.75" y="313.0" width="3.0" height="14.0" fill="#f23645"/>
<rect x="597.64" y="294.0" width="1" height="56.7" fill="#e2808c"/>
<rect x="596.64" y="327.0" width="3.0" height="11.0" fill="#f23645"/>
<rect x="601.54" y="261.0" width="1" height="81.0" fill="#55a795"/>
<rect x="600.54" y="270.0" width="3.0" height="68.0" fill="#089981"/>
<rect x="605.44" y="202.0" width="1" height="81.0" fill="#55a795"/>
<rect x="604.44" y="212.0" width="3.0" height="58.0" fill="#089981"/>
<rect x="609.33" y="186.0" width="1" height="29.0" fill="#55a795"/>
<rect x="608.33" y="196.0" width="3.0" height="17.0" fill="#089981"/>
<rect x="613.23" y="189.0" width="1" height="35.0" fill="#e2808c"/>
<rect x="612.23" y="196.0" width="3.0" height="3.6" fill="#f23645"/>
<rect x="617.12" y="197.0" width="1" height="35.0" fill="#e2808c"/>
<rect x="616.12" y="199.0" width="3.0" height="7.0" fill="#f23645"/>
<rect x="621.01" y="144.0" width="1" height="69.0" fill="#55a795"/>
<rect x="620.01" y="144.4" width="3.0" height="61.6" fill="#089981"/>
<rect x="624.91" y="131.4" width="1" height="29.2" fill="#e2808c"/>
<rect x="623.91" y="143.9" width="3.0" height="2.0" fill="#f23645"/>
</g>
<g>
<circle cx="624.6" cy="572" r="6.2" fill="#fff" stroke="#9c27b0" stroke-width="1.2"/>
<circle cx="642.3" cy="572" r="6.2" fill="#fff" stroke="#f7525f" stroke-width="1.2"/>
<use href="#ukf" transform="translate(642.3,572) scale(0.74)"/>
<circle cx="636.4" cy="572" r="6.2" fill="#fff" stroke="#f7525f" stroke-width="1.2"/>
<use href="#ukf" transform="translate(636.4,572) scale(0.74)"/>
<circle cx="628.9" cy="572" r="6.2" fill="#fff" stroke="#f7525f" stroke-width="1.2"/>
<use href="#ukf" transform="translate(628.9,572) scale(0.74)"/>
</g>
<g transform="translate(8,558.9) scale(0.53)" fill="#131722" stroke="#fff" stroke-width="4" paint-order="stroke" stroke-linejoin="round">
<path d="M14 22H7V11H0V4h14v18zM28 22h-8l7.5-18h8L28 22z"/><circle cx="20" cy="8" r="4"/></g>
<text x="32" y="570.7" font-weight="bold" font-size="14" fill="#131722" stroke="#fff" stroke-width="2.4" paint-order="stroke" stroke-linejoin="round" textLength="78.6" lengthAdjust="spacingAndGlyphs">TradingView</text>
<g clip-path="url(#pa)">
<text x="671.8" y="581.0" font-size="9.0" fill="#131722" stroke="#131722" stroke-width="0.3" textLength="26.6" lengthAdjust="spacingAndGlyphs">171.000</text>
<text x="671.8" y="552.8" font-size="9.0" fill="#131722" stroke="#131722" stroke-width="0.3" textLength="26.6" lengthAdjust="spacingAndGlyphs">172.000</text>
<text x="671.8" y="523.4" font-size="9.0" fill="#131722" stroke="#131722" stroke-width="0.3" textLength="26.6" lengthAdjust="spacingAndGlyphs">173.000</text>
<text x="671.8" y="494.0" font-size="9.0" fill="#131722" stroke="#131722" stroke-width="0.3" textLength="26.6" lengthAdjust="spacingAndGlyphs">174.000</text>
<text x="671.8" y="464.6" font-size="9.0" fill="#131722" stroke="#131722" stroke-width="0.3" textLength="26.6" lengthAdjust="spacingAndGlyphs">175.000</text>
<text x="671.8" y="435.1" font-size="9.0" fill="#131722" stroke="#131722" stroke-width="0.3" textLength="26.6" lengthAdjust="spacingAndGlyphs">176.000</text>
<text x="671.8" y="405.7" font-size="9.0" fill="#131722" stroke="#131722" stroke-width="0.3" textLength="26.6" lengthAdjust="spacingAndGlyphs">177.000</text>
<text x="671.8" y="376.2" font-size="9.0" fill="#131722" stroke="#131722" stroke-width="0.3" textLength="26.6" lengthAdjust="spacingAndGlyphs">178.000</text>
<text x="671.8" y="346.8" font-size="9.0" fill="#131722" stroke="#131722" stroke-width="0.3" textLength="26.6" lengthAdjust="spacingAndGlyphs">179.000</text>
<text x="671.8" y="317.3" font-size="9.0" fill="#131722" stroke="#131722" stroke-width="0.3" textLength="26.6" lengthAdjust="spacingAndGlyphs">180.000</text>
<text x="671.8" y="287.8" font-size="9.0" fill="#131722" stroke="#131722" stroke-width="0.3" textLength="26.6" lengthAdjust="spacingAndGlyphs">181.000</text>
<text x="671.8" y="258.3" font-size="9.0" fill="#131722" stroke="#131722" stroke-width="0.3" textLength="26.6" lengthAdjust="spacingAndGlyphs">182.000</text>
<text x="671.8" y="228.7" font-size="9.0" fill="#131722" stroke="#131722" stroke-width="0.3" textLength="26.6" lengthAdjust="spacingAndGlyphs">183.000</text>
<text x="671.8" y="199.2" font-size="9.0" fill="#131722" stroke="#131722" stroke-width="0.3" textLength="26.6" lengthAdjust="spacingAndGlyphs">184.000</text>
<text x="671.8" y="169.7" font-size="9.0" fill="#131722" stroke="#131722" stroke-width="0.3" textLength="26.6" lengthAdjust="spacingAndGlyphs">185.000</text>
<text x="671.8" y="140.1" font-size="9.0" fill="#131722" stroke="#131722" stroke-width="0.3" textLength="26.6" lengthAdjust="spacingAndGlyphs">186.000</text>
<text x="671.8" y="110.6" font-size="9.0" fill="#131722" stroke="#131722" stroke-width="0.3" textLength="26.6" lengthAdjust="spacingAndGlyphs">187.000</text>
<text x="671.8" y="81.0" font-size="9.0" fill="#131722" stroke="#131722" stroke-width="0.3" textLength="26.6" lengthAdjust="spacingAndGlyphs">188.000</text>
<text x="671.8" y="51.4" font-size="9.0" fill="#131722" stroke="#131722" stroke-width="0.3" textLength="26.6" lengthAdjust="spacingAndGlyphs">189.000</text>
<text x="671.8" y="21.8" font-size="9.0" fill="#131722" stroke="#131722" stroke-width="0.3" textLength="26.6" lengthAdjust="spacingAndGlyphs">190.000</text>
</g>
<rect x="665.9" y="139.8" width="38.6" height="20.8" rx="1.5" fill="#f23645"/>
<text x="671.6" y="148.4" font-size="8.8" fill="#fff" textLength="26.4" lengthAdjust="spacingAndGlyphs">185.720</text>
<text x="671.0" y="157.6" font-size="8.8" fill="#fff" textLength="29.8" lengthAdjust="spacingAndGlyphs">02:27:46</text>
<rect x="665.9" y="471.3" width="40.7" height="11.2" rx="1.5" fill="#f23645"/>
<text x="671.3" y="479.8" font-size="8.8" fill="#fff" textLength="31.4" lengthAdjust="spacingAndGlyphs">210.205K</text>
<line x1="0" y1="581.5" x2="710" y2="581.5" stroke="#ededed" stroke-width="1"/>
<text x="3.8" y="593.1" font-size="8.6" fill="#131722" stroke="#131722" stroke-width="0.3" textLength="12.1" lengthAdjust="spacingAndGlyphs">Jun</text>
<text x="90.6" y="593.1" font-size="8.6" fill="#131722" stroke="#131722" stroke-width="0.3" textLength="9.7" lengthAdjust="spacingAndGlyphs">Jul</text>
<text x="170.8" y="593.1" font-size="8.6" fill="#131722" stroke="#131722" stroke-width="0.3" textLength="12.4" lengthAdjust="spacingAndGlyphs">Aug</text>
<text x="260.0" y="593.1" font-size="8.6" fill="#131722" stroke="#131722" stroke-width="0.3" textLength="13.2" lengthAdjust="spacingAndGlyphs">Sep</text>
<text x="342.6" y="593.1" font-size="8.6" fill="#131722" stroke="#131722" stroke-width="0.3" textLength="11.9" lengthAdjust="spacingAndGlyphs">Oct</text>
<text x="426.8" y="593.1" font-size="8.6" fill="#131722" stroke="#131722" stroke-width="0.3" textLength="14.5" lengthAdjust="spacingAndGlyphs">Nov</text>
<text x="512.8" y="593.1" font-size="8.6" fill="#131722" stroke="#131722" stroke-width="0.3" textLength="13.9" lengthAdjust="spacingAndGlyphs">Dec</text>
<text x="648.7" y="593.1" font-size="8.6" fill="#131722" stroke="#131722" stroke-width="0.3" textLength="7.4" lengthAdjust="spacingAndGlyphs">22</text>
<text x="588.6" y="593.1" font-size="8.6" fill="#131722" textLength="18.8" lengthAdjust="spacingAndGlyphs" font-weight="bold">2024</text>
<g transform="translate(688.3,590.8)" fill="none" stroke="#131722" stroke-width="1">
<path d="M-2.4,-4.1L2.4,-4.1L4.7,0L2.4,4.1L-2.4,4.1L-4.7,0Z"/><circle cx="0" cy="0" r="1.4"/></g>
<use href="#ukf" transform="translate(9.75,12.9) scale(0.63)"/>
<circle cx="14.1" cy="8.4" r="2.3" fill="#fff"/><circle cx="14.1" cy="8.4" r="1.7" fill="#e0303f"/>
<rect x="224" y="4.8" width="25.5" height="11.8" rx="5.9" fill="#e3f4f1"/>
<path d="M236.9,4.8H243.6A5.9,5.9 0 0 1 243.6,16.6H236.9Z" fill="#f7b9cf"/>
<circle cx="231" cy="10.7" r="3.4" fill="#c9efe9"/><circle cx="231" cy="10.7" r="2.6" fill="#089981"/>
<path d="M239.7,9.5q1.55,-1.6 3.1,0t3.1,0M239.7,12.3q1.55,-1.6 3.1,0t3.1,0" fill="none" stroke="#d0306e" stroke-width="1.15" stroke-linecap="round"/>
<text x="20.8" y="14.6" font-size="10.2" fill="#131722" stroke="#131722" stroke-width="0.25" textLength="59.2" lengthAdjust="spacingAndGlyphs">British Pound</text>
<text x="84.6" y="14.6" font-size="10.2" fill="#131722">/</text>
<text x="92.4" y="14.6" font-size="10.2" fill="#131722" stroke="#131722" stroke-width="0.25" textLength="61.2" lengthAdjust="spacingAndGlyphs">Japanese Yen</text>
<text x="156.6" y="14.6" font-size="10.2" fill="#131722" stroke="#131722" stroke-width="0.25">·</text>
<text x="162.5" y="14.6" font-size="10.2" fill="#131722" stroke="#131722" stroke-width="0.25" textLength="10.9" lengthAdjust="spacingAndGlyphs">1D</text>
<text x="176.3" y="14.6" font-size="10.2" fill="#131722" stroke="#131722" stroke-width="0.25">·</text>
<text x="181.8" y="14.6" font-size="10.2" fill="#131722" stroke="#131722" stroke-width="0.25" textLength="32.2" lengthAdjust="spacingAndGlyphs">OANDA</text>
<text x="260.6" y="14.3" font-size="8.8" fill="#3a3e4a" textLength="5.6" lengthAdjust="spacingAndGlyphs" font-weight="bold">O</text>
<text x="266.6" y="14.3" font-size="8.6" fill="#f23645" textLength="29.6" lengthAdjust="spacingAndGlyphs">185.747</text>
<text x="300.8" y="14.3" font-size="8.8" fill="#3a3e4a" textLength="4.7" lengthAdjust="spacingAndGlyphs" font-weight="bold">H</text>
<text x="306.3" y="14.3" font-size="8.6" fill="#f23645" textLength="29.8" lengthAdjust="spacingAndGlyphs">186.168</text>
<text x="340.2" y="14.3" font-size="8.8" fill="#3a3e4a" textLength="3.9" lengthAdjust="spacingAndGlyphs" font-weight="bold">L</text>
<text x="345.6" y="14.3" font-size="8.6" fill="#f23645" textLength="28.8" lengthAdjust="spacingAndGlyphs">185.187</text>
<text x="378.8" y="14.3" font-size="8.8" fill="#3a3e4a" textLength="4.2" lengthAdjust="spacingAndGlyphs" font-weight="bold">C</text>
<text x="384.9" y="14.3" font-size="8.6" fill="#f23645" textLength="28.4" lengthAdjust="spacingAndGlyphs">185.720</text>
<text x="417.9" y="14.3" font-size="8.6" fill="#f23645" textLength="24.8" lengthAdjust="spacingAndGlyphs">−0.028</text>
<text x="446.3" y="14.3" font-size="8.6" fill="#f23645" textLength="30.9" lengthAdjust="spacingAndGlyphs">(−0.01%)</text>
<rect x="6" y="22.7" width="38.2" height="15.2" rx="2.2" fill="#fff" stroke="#eda3aa" stroke-width="1"/>
<text x="11" y="33.8" font-size="8.6" fill="#f23645" textLength="24" lengthAdjust="spacingAndGlyphs">185.70</text>
<text x="35.4" y="31.6" font-size="6.0" fill="#f23645">4</text>
<text x="49.9" y="33.0" font-size="8.6" fill="#2a2e39" stroke="#2a2e39" stroke-width="0.3" textLength="9.3" lengthAdjust="spacingAndGlyphs">3.1</text>
<rect x="65.7" y="22.7" width="37.9" height="15.2" rx="2.2" fill="#fff" stroke="#a3b6f2" stroke-width="1"/>
<text x="71" y="33.8" font-size="8.6" fill="#2962ff" textLength="23.5" lengthAdjust="spacingAndGlyphs">185.73</text>
<text x="95.0" y="31.6" font-size="6.0" fill="#2962ff">5</text>
<text x="6.1" y="52.8" font-size="9.0" fill="#131722" textLength="10.7" lengthAdjust="spacingAndGlyphs">Vol</text>
<text x="22.7" y="52.8" font-size="9.0" fill="#f23645" textLength="34.3" lengthAdjust="spacingAndGlyphs">210.205K</text>
<rect x="7" y="59.5" width="17" height="13" rx="2" fill="#fff" stroke="#e0e3eb" stroke-width="1"/>
<path d="M12.8,67.6L15.5,65L18.2,67.6" fill="none" stroke="#131722" stroke-width="1.3"/>
</svg>
</body></html>
